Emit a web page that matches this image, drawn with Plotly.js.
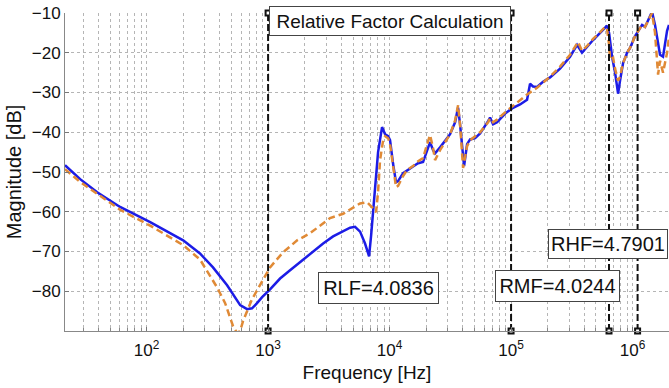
<!DOCTYPE html>
<html>
<head>
<meta charset="utf-8">
<script src="https://cdn.plot.ly/plotly-3.0.1.min.js"></script>
<style>html,body{margin:0;padding:0;background:#fff;}#chart{width:669px;height:388px;}</style>
</head>
<body>
<div id="chart"></div>
<script>
// ---- data ----
const freqBlue = [21.3,28.4,39.2,60.5,107,200,275,352,460,515,589,672,738,811,893,1038,1255,1517,2217,2838,3428,4142,4731,5200,5718,6281,6780,7045,7311,7598,8040,8670,9180,9724,10090,10690,11300,11750,12920,15600,17170,18870,20370,21540,22810,23670,26040,28640,31480,34610,36630,38020,39530,41040,43450,46000,50580,55610,64710,67150,71100,76740,89300,101900,118600,135400,143300,151700,163600,183300,209400,253000,305900,349300,383700,422300,473300,540700,594300,616600,640900,678100,717800,760000,788900,835600,901500,953400,1049000,1197000,1267000,1343000,1446000,1531000,1622000,1683000,1782000,1923000,1995000];
const magBlue = [-48.3,-51.8,-55.1,-58.8,-62.6,-67.2,-70.5,-74,-78.5,-80.8,-83.5,-84.5,-84.3,-83,-81.5,-79.5,-76.8,-74.7,-70.5,-68,-66.2,-64.8,-64,-63.8,-65,-68,-71.2,-66,-60,-53,-45,-38.7,-40.5,-41,-42,-48,-52.6,-52.3,-50.3,-48.6,-47.8,-47.5,-44.5,-42.5,-44.5,-45.3,-43.8,-42,-40.5,-37.5,-33.8,-38,-44,-48.5,-43,-41.8,-41.5,-40.3,-37.2,-36.3,-38,-37.5,-35.3,-34,-33,-31.8,-27.8,-28.5,-28.6,-27.3,-26.2,-24,-21,-18,-20,-18.5,-16.8,-15,-13.5,-13.2,-15,-21,-25,-30.3,-27,-22.6,-20,-18.8,-15.8,-13,-13.5,-12,-9.7,-13,-18,-20.5,-21,-14.5,-13];

const freqOrange = [21.3,28.4,39.2,60.5,107,200,275,380,443,515,556,589,622,672,738,811,893,1038,1328,1734,2217,3238,4142,5718,6531,7045,7311,7743,8040,8350,8851,9180,9724,10090,10690,11300,11750,12920,13930,15600,17170,18870,20370,21540,22810,23670,26040,28640,31480,34610,36630,38020,40280,43450,46000,50580,55610,64710,67150,71100,76740,89300,101900,118600,135400,163600,209400,253000,305900,355900,383700,422300,473300,540700,594300,616600,640900,653100,691800,717800,760000,788900,835600,901500,953400,1049000,1197000,1267000,1343000,1446000,1531000,1622000,1683000,1782000,1923000,1995000];
const magOrange = [-49.3,-52.5,-55.5,-59.5,-63.5,-68.4,-72,-79,-83,-88.8,-90.5,-90,-87.5,-85,-82,-79.8,-77.5,-74,-70.2,-67.2,-65.4,-61.6,-60.5,-57.9,-57.6,-58.5,-59.1,-60.1,-55,-47,-42,-41,-41.5,-43,-49,-53.8,-53.5,-51,-49.5,-48.5,-47.3,-46.5,-43,-40.7,-44,-47,-44.5,-42.5,-40.5,-37,-33.2,-38,-49,-43.5,-42,-41,-40,-37.5,-36.5,-37.5,-36.8,-35,-33.5,-32,-30.5,-28.8,-26,-23.5,-20.5,-17.3,-19.5,-18.3,-16.5,-14.8,-13.5,-14,-18,-21.8,-21.3,-24,-27,-26,-22.6,-20,-18.8,-15.8,-13,-13.5,-12,-10,-15,-25.5,-22,-25,-20,-16];

const boundaryFreqs = [1000, 100000, 640000, 1100000];
const yLimits = [-90, -10];
const xLimits = [21.3, 1995000];
const yTicks = [-80, -70, -60, -50, -40, -30, -20, -10];
const decadeExps = [1, 2, 3, 4, 5, 6];
const minorMults = [2, 3, 4, 5, 6, 7, 8, 9];
const boxTexts = ["Relative Factor Calculation", "RLF=4.0836", "RMF=4.0244", "RHF=4.7901"];

// ---- build ticks ----
const tickvals = [], ticktext = [], minorvals = [];
decadeExps.forEach(e => {
  const base = Math.pow(10, e);
  if (base >= xLimits[0] && base <= xLimits[1]) {
    tickvals.push(base);
    ticktext.push('10<sup>' + e + '</sup>');
  }
  minorMults.forEach(m => {
    const v = m * base;
    if (v >= xLimits[0] && v <= xLimits[1]) minorvals.push(v);
  });
});

const FONT = 'Liberation Sans, Arial, Helvetica, sans-serif';

const traces = [
  {x: freqBlue, y: magBlue, type: 'scatter', mode: 'lines',
   line: {color: '#1c1ce6', width: 2.5}},
  {x: freqOrange, y: magOrange, type: 'scatter', mode: 'lines',
   line: {color: '#e08a36', width: 2.5, dash: '7px,4px'}}
];
boundaryFreqs.forEach(f => {
  traces.push({x: [f, f], y: yLimits.slice(), type: 'scatter', mode: 'lines+markers',
    cliponaxis: false,
    line: {color: '#111', width: 2, dash: '7px,3px'},
    marker: {symbol: 'square', size: 5, color: '#fff', line: {color: '#111', width: 2}}});
});

const boxStyle = {xref: 'paper', yref: 'paper', showarrow: false, xanchor: 'center', yanchor: 'middle',
  bgcolor: '#fff', bordercolor: '#444', borderwidth: 1, borderpad: 2, align: 'center'};
const annotations = [
  Object.assign({}, boxStyle, {text: boxTexts[0], x: 0.538, y: 0.975, width: 236, height: 24, font: {family: FONT, size: 19, color: '#111'}}),
  Object.assign({}, boxStyle, {text: boxTexts[1], x: 0.519, y: 0.135, width: 115, height: 26, font: {family: FONT, size: 20, color: '#111'}}),
  Object.assign({}, boxStyle, {text: boxTexts[2], x: 0.8154, y: 0.1415, width: 119, height: 26, font: {family: FONT, size: 20, color: '#111'}}),
  Object.assign({}, boxStyle, {text: boxTexts[3], x: 0.899, y: 0.2736, width: 114, height: 24, font: {family: FONT, size: 20, color: '#111'}})
];

const gridStyle = {showgrid: true, gridcolor: '#b5b5b5', griddash: 'dot', gridwidth: 1};

const layout = {
  width: 669, height: 388,
  margin: {l: 65, r: 0, t: 13, b: 57},
  paper_bgcolor: '#fff', plot_bgcolor: '#fff',
  showlegend: false, hovermode: false,
  font: {family: FONT, color: '#111'},
  xaxis: Object.assign({
    type: 'log', range: [Math.log10(xLimits[0]), Math.log10(xLimits[1])],
    tickmode: 'array', tickvals: tickvals, ticktext: ticktext,
    ticks: 'inside', ticklen: 4, tickcolor: '#777',
    minor: Object.assign({tickmode: 'array', tickvals: minorvals, ticks: 'inside', ticklen: 3, tickcolor: '#888'}, gridStyle),
    showline: true, linecolor: '#888', linewidth: 1, zeroline: false,
    tickfont: {family: FONT, size: 17, color: '#111'},
    ticklabelstandoff: 4,
    title: {text: 'Frequency [Hz]', font: {family: FONT, size: 19, color: '#111'}, standoff: 6},
    automargin: false
  }, gridStyle),
  yaxis: Object.assign({
    range: yLimits, tickmode: 'array', tickvals: yTicks,
    ticks: 'inside', ticklen: 4, tickcolor: '#777',
    showline: true, linecolor: '#888', linewidth: 1, zeroline: false,
    tickfont: {family: FONT, size: 17, color: '#111'},
    title: {text: 'Magnitude [dB]', font: {family: FONT, size: 20, color: '#111'}, standoff: 4},
    automargin: false
  }, gridStyle),
  annotations: annotations
};

Plotly.newPlot('chart', traces, layout, {staticPlot: true, displayModeBar: false});
</script>
</body>
</html>
